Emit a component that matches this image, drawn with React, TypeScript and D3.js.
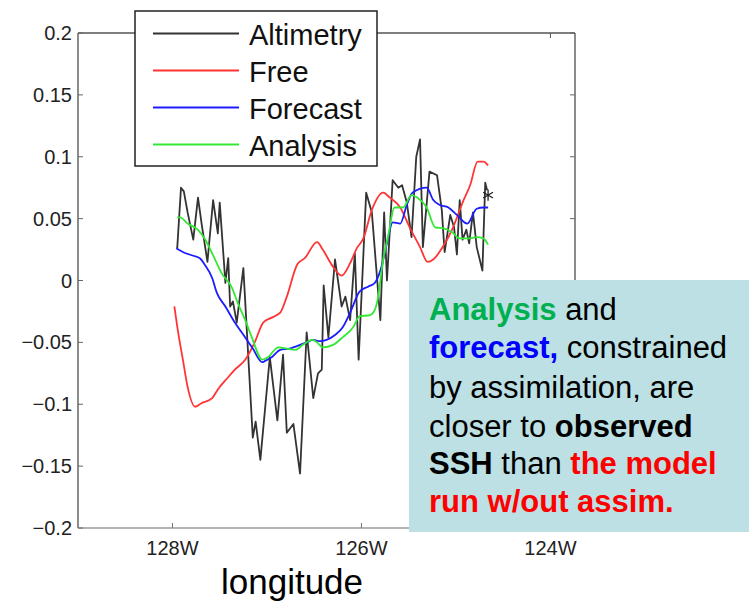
import * as d3 from "d3";

// SSH along the track (m), longitude in degrees east (negative = W)
const altimetryLon = [-127.95, -127.91, -127.88, -127.84, -127.78, -127.73, -127.69, -127.63, -127.57, -127.52, -127.5, -127.44, -127.41, -127.39, -127.36, -127.32, -127.25, -127.15, -127.12, -127.07, -126.97, -126.89, -126.83, -126.79, -126.72, -126.65, -126.58, -126.51, -126.46, -126.42, -126.4, -126.35, -126.28, -126.21, -126.17, -126.12, -126.07, -126.03, -125.95, -125.89, -125.8, -125.76, -125.73, -125.67, -125.61, -125.57, -125.52, -125.47, -125.42, -125.38, -125.35, -125.28, -125.2, -125.15, -125.12, -125.06, -125.02, -124.99, -124.96, -124.93, -124.89, -124.86, -124.82, -124.78, -124.72, -124.69, -124.67];
const altimetrySsh = [0.026, 0.075, 0.072, 0.055, 0.033, 0.067, 0.045, 0.015, 0.065, 0.038, 0.063, -0.002, 0.018, -0.021, -0.017, -0.034, 0.01, -0.127, -0.114, -0.145, -0.062, -0.113, -0.06, -0.123, -0.116, -0.156, -0.042, -0.095, -0.075, -0.072, -0.004, -0.046, 0.017, -0.021, -0.013, -0.032, 0.022, -0.064, 0.071, 0.055, -0.032, 0.055, 0.0, 0.081, 0.075, 0.077, 0.063, 0.035, 0.1, 0.114, 0.027, 0.088, 0.085, 0.057, 0.023, 0.053, 0.043, 0.021, 0.065, 0.033, 0.041, 0.03, 0.055, 0.027, 0.008, 0.079, 0.073];

const freeLon = [-127.98, -127.94, -127.89, -127.84, -127.76, -127.69, -127.58, -127.52, -127.42, -127.34, -127.23, -127.13, -127.04, -126.95, -126.86, -126.79, -126.68, -126.6, -126.47, -126.41, -126.3, -126.21, -126.12, -126.05, -125.98, -125.89, -125.77, -125.7, -125.59, -125.49, -125.38, -125.3, -125.24, -125.14, -125.03, -124.93, -124.85, -124.77, -124.71, -124.66];
const freeSsh = [-0.021, -0.042, -0.064, -0.086, -0.102, -0.099, -0.095, -0.088, -0.079, -0.072, -0.064, -0.05, -0.034, -0.03, -0.026, -0.013, 0.013, 0.018, 0.031, 0.025, 0.011, 0.004, 0.014, 0.026, 0.034, 0.057, 0.071, 0.067, 0.059, 0.043, 0.027, 0.015, 0.017, 0.027, 0.043, 0.063, 0.077, 0.096, 0.096, 0.093];

const forecastLon = [-127.96, -127.89, -127.78, -127.71, -127.66, -127.58, -127.53, -127.44, -127.34, -127.23, -127.15, -127.05, -127.02, -126.95, -126.86, -126.76, -126.65, -126.58, -126.51, -126.44, -126.37, -126.28, -126.2, -126.12, -126.02, -125.93, -125.86, -125.8, -125.73, -125.67, -125.59, -125.52, -125.46, -125.31, -125.24, -125.17, -125.08, -124.99, -124.88, -124.78, -124.71, -124.66];
const forecastSsh = [0.026, 0.023, 0.02, 0.018, 0.013, 0.002, -0.01, -0.021, -0.034, -0.046, -0.055, -0.066, -0.065, -0.062, -0.056, -0.055, -0.052, -0.05, -0.048, -0.049, -0.048, -0.044, -0.038, -0.026, -0.009, -0.005, -0.002, 0.008, 0.03, 0.047, 0.046, 0.061, 0.071, 0.075, 0.065, 0.061, 0.059, 0.053, 0.046, 0.058, 0.059, 0.059];

const analysisLon = [-127.95, -127.92, -127.84, -127.73, -127.66, -127.58, -127.48, -127.37, -127.31, -127.23, -127.16, -127.05, -126.99, -126.88, -126.79, -126.7, -126.62, -126.52, -126.47, -126.41, -126.3, -126.2, -126.09, -126.02, -125.91, -125.86, -125.83, -125.77, -125.72, -125.65, -125.56, -125.47, -125.41, -125.31, -125.22, -125.12, -125.04, -124.96, -124.87, -124.78, -124.71, -124.66];
const analysisSsh = [0.051, 0.051, 0.046, 0.041, 0.034, 0.022, 0.006, -0.006, -0.018, -0.032, -0.046, -0.064, -0.062, -0.054, -0.055, -0.056, -0.052, -0.048, -0.05, -0.054, -0.052, -0.046, -0.038, -0.029, -0.028, -0.024, -0.016, 0.017, 0.035, 0.059, 0.059, 0.069, 0.067, 0.059, 0.043, 0.042, 0.039, 0.034, 0.034, 0.035, 0.034, 0.029];

const lastObs = [-124.66, 0.069];

const yTicks = [0.2, 0.15, 0.1, 0.05, 0, -0.05, -0.1, -0.15, -0.2];
const yTickLabels = ["0.2", "0.15", "0.1", "0.05", "0", "\u22120.05", "\u22120.1", "\u22120.15", "\u22120.2"];
const xTicks = [-128, -126, -124];
const xTickLabels = ["128W", "126W", "124W"];

const seriesNames = ["Altimetry", "Free", "Forecast", "Analysis"];
const seriesColors = ["#333333", "#ff3535", "#1c1cff", "#33e833"];

const font = "'Liberation Sans', Arial, Helvetica, sans-serif";

export default function App() {
  const x = d3.scaleLinear().domain([-129, -123.74]).range([78, 575]);
  const y = d3.scaleLinear().domain([-0.2, 0.2]).range([528, 33]);

  // altimetry is raw along-track data, the model runs are smooth
  const path = (lons: number[], vals: number[], smooth: boolean) =>
    d3
      .line<number>()
      .x((d) => x(d))
      .y((_, i) => y(vals[i]))
      .curve(smooth ? d3.curveMonotoneX : d3.curveLinear)(lons) || "";

  const series = [
    [altimetryLon, altimetrySsh],
    [freeLon, freeSsh],
    [forecastLon, forecastSsh],
    [analysisLon, analysisSsh],
  ];

  const star = d3.symbol(d3.symbolAsterisk, 90)() || "";
  const [x0, x1] = x.range();
  const [y0, y1] = y.range();

  return (
    <svg
      width={749}
      height={603}
      style={{ position: "absolute", left: 0, top: 0, background: "#fff" }}
      fontFamily={font}
    >
      {/* axes frame */}
      <line x1={x0} x2={x0} y1={y1} y2={y0} stroke="#666" strokeWidth={1.5} />
      <line x1={x1} x2={x1} y1={y1} y2={y0} stroke="#666" strokeWidth={1.5} />
      <line x1={x0} x2={x1} y1={y1} y2={y1} stroke="#555" strokeWidth={1.5} />
      <line x1={x0} x2={x1} y1={y0} y2={y0} stroke="#9a9a9a" strokeWidth={1.5} />

      {yTicks.map((t, i) => (
        <g key={"y" + i}>
          <line x1={x0} x2={x0 + 5} y1={y(t)} y2={y(t)} stroke="#666" />
          <line x1={x1} x2={x1 - 5} y1={y(t)} y2={y(t)} stroke="#666" />
          <text
            x={72}
            y={y(t)}
            textAnchor="end"
            dominantBaseline="central"
            fontSize={20}
            fill="#222"
          >
            {yTickLabels[i]}
          </text>
        </g>
      ))}
      {xTicks.map((t, i) => (
        <g key={"x" + i}>
          <line x1={x(t)} x2={x(t)} y1={y0} y2={y0 - 5} stroke="#777" />
          <line x1={x(t)} x2={x(t)} y1={y1} y2={y1 + 5} stroke="#555" />
          <text x={x(t)} y={555} textAnchor="middle" fontSize={20} fill="#222">
            {xTickLabels[i]}
          </text>
        </g>
      ))}

      {series.map(([lons, vals], i) => (
        <path
          key={seriesNames[i]}
          d={path(lons, vals, i > 0)}
          fill="none"
          stroke={seriesColors[i]}
          strokeWidth={1.8}
          strokeLinejoin="round"
        />
      ))}
      <path
        d={star}
        transform={`translate(${x(lastObs[0])},${y(lastObs[1])})`}
        fill="none"
        stroke="#222"
        strokeWidth={1.3}
      />

      <text x={292} y={594} textAnchor="middle" fontSize={35} fill="#000">
        longitude
      </text>

      {/* legend */}
      <rect x={135} y={11} width={242} height={155} fill="#fff" stroke="#222" strokeWidth={1.5} />
      {seriesNames.map((name, i) => {
        const ly = 33.5 + i * 37;
        return (
          <g key={"leg" + name}>
            <line x1={153} x2={239} y1={ly} y2={ly} stroke={seriesColors[i]} strokeWidth={1.8} />
            <text x={249} y={ly + 11} fontSize={29} fill="#111">
              {name}
            </text>
          </g>
        );
      })}

      {/* annotation box */}
      <rect x={409} y={280} width={340} height={252} fill="#bce0e3" />
      <g fontSize={31} fill="#000">
        <text x={429} y={320}>
          <tspan fontWeight="bold" fill="#00b050">Analysis</tspan>
          <tspan> and</tspan>
        </text>
        <text x={429} y={358}>
          <tspan fontWeight="bold" fill="#0000ff">forecast,</tspan>
          <tspan> constrained</tspan>
        </text>
        <text x={429} y={398}>by assimilation, are</text>
        <text x={429} y={437}>
          <tspan>closer to </tspan>
          <tspan fontWeight="bold">observed</tspan>
        </text>
        <text x={429} y={474}>
          <tspan fontWeight="bold">SSH</tspan>
          <tspan> than </tspan>
          <tspan fontWeight="bold" fill="#ff0000">the model</tspan>
        </text>
        <text x={429} y={512} fontWeight="bold" fill="#ff0000">
          run w/out assim.
        </text>
      </g>
    </svg>
  );
}
